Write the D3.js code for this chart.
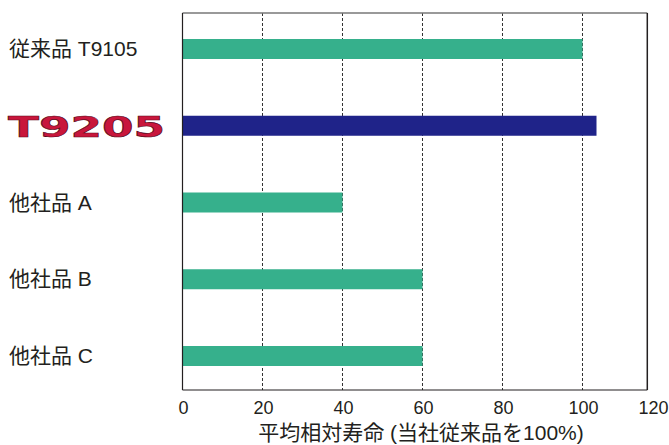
<!DOCTYPE html>
<html>
<head>
<meta charset="utf-8">
<script src="https://cdn.jsdelivr.net/npm/d3@7"></script>
<style>
    body { margin: 0; background: #fff; }
    svg { display: block; }
</style>
</head>
<body>
<svg id="chart" width="669" height="445"></svg>
<script>
// data
const categories = ["従来品 T9105", "T9205", "他社品 A", "他社品 B", "他社品 C"];
const values = [100, 103.5, 40, 60, 60];
const barColors = ["#36b08c", "#1f2389", "#36b08c", "#36b08c", "#36b08c"];
const xTicks = [0, 20, 40, 60, 80, 100, 120];
const gridTicks = [20, 40, 60, 80, 100];
const xTitle = "平均相対寿命 (当社従来品を100%)";

const svg = d3.select("#chart");
const font = "'Liberation Sans', 'Noto Sans CJK JP', sans-serif";

const x = d3.scaleLinear().domain([0, 100]).range([182.5, 582.5]);
const y = d3.scalePoint().domain(categories).range([49, 356]);

const plotTop = 13, plotBottom = 390, plotRight = x(116.2);
const barH = 20;

// grid
svg.append("g")
    .selectAll("line")
    .data(gridTicks)
    .join("line")
    .attr("x1", d => x(d)).attr("x2", d => x(d))
    .attr("y1", plotTop).attr("y2", plotBottom)
    .style("stroke", "#333")
    .style("stroke-width", 1)
    .style("stroke-dasharray", "3,2");

// bars
svg.append("g")
    .selectAll("rect")
    .data(categories)
    .join("rect")
    .attr("x", x(0))
    .attr("y", d => y(d) - barH / 2)
    .attr("width", (d, i) => x(values[i]) - x(0))
    .attr("height", barH)
    .style("fill", (d, i) => barColors[i]);

// frame
svg.append("line")
    .attr("x1", x(0)).attr("x2", plotRight)
    .attr("y1", plotTop).attr("y2", plotTop)
    .style("stroke", "#777").style("stroke-width", 1.5);
svg.append("line")
    .attr("x1", x(0)).attr("x2", plotRight)
    .attr("y1", plotBottom).attr("y2", plotBottom)
    .style("stroke", "#231f20").style("stroke-width", 1.2);
svg.append("line")
    .attr("x1", x(0)).attr("x2", x(0))
    .attr("y1", plotTop).attr("y2", plotBottom)
    .style("stroke", "#231f20").style("stroke-width", 1.2);
svg.append("line")
    .attr("x1", plotRight).attr("x2", plotRight)
    .attr("y1", plotTop).attr("y2", plotBottom)
    .style("stroke", "#231f20").style("stroke-width", 1.5);

// x tick labels
svg.append("g")
    .selectAll("text")
    .data(xTicks)
    .join("text")
    .attr("x", d => x(d) + (d === 120 ? -9 : 1))
    .attr("y", 414)
    .attr("text-anchor", "middle")
    .style("font-family", font)
    .style("font-size", "18px")
    .style("fill", "#231f20")
    .text(d => d);

svg.append("text")
    .attr("x", 421)
    .attr("y", 440)
    .attr("text-anchor", "middle")
    .style("font-family", font)
    .style("font-size", "21px")
    .style("fill", "#231f20")
    .text(xTitle);

// category labels
svg.append("g")
    .selectAll("text")
    .data(categories)
    .join("text")
    .attr("x", (d, i) => i === 1 ? 8 : 9)
    .attr("y", (d, i) => y(d) + (i === 1 ? 11 : 7))
    .attr("textLength", (d, i) => i === 1 ? 157 : null)
    .attr("lengthAdjust", "spacingAndGlyphs")
    .style("font-family", (d, i) => i === 1 ? "'DejaVu Sans', sans-serif" : font)
    .style("font-size", (d, i) => i === 1 ? "28px" : "21px")
    .style("font-weight", (d, i) => i === 1 ? "bold" : "normal")
    .style("fill", (d, i) => i === 1 ? "#c8163c" : "#231f20")
    .style("stroke", (d, i) => i === 1 ? "#5a0a1a" : "none")
    .style("stroke-width", 0.6)
    .text(d => d);
</script>
</body>
</html>
